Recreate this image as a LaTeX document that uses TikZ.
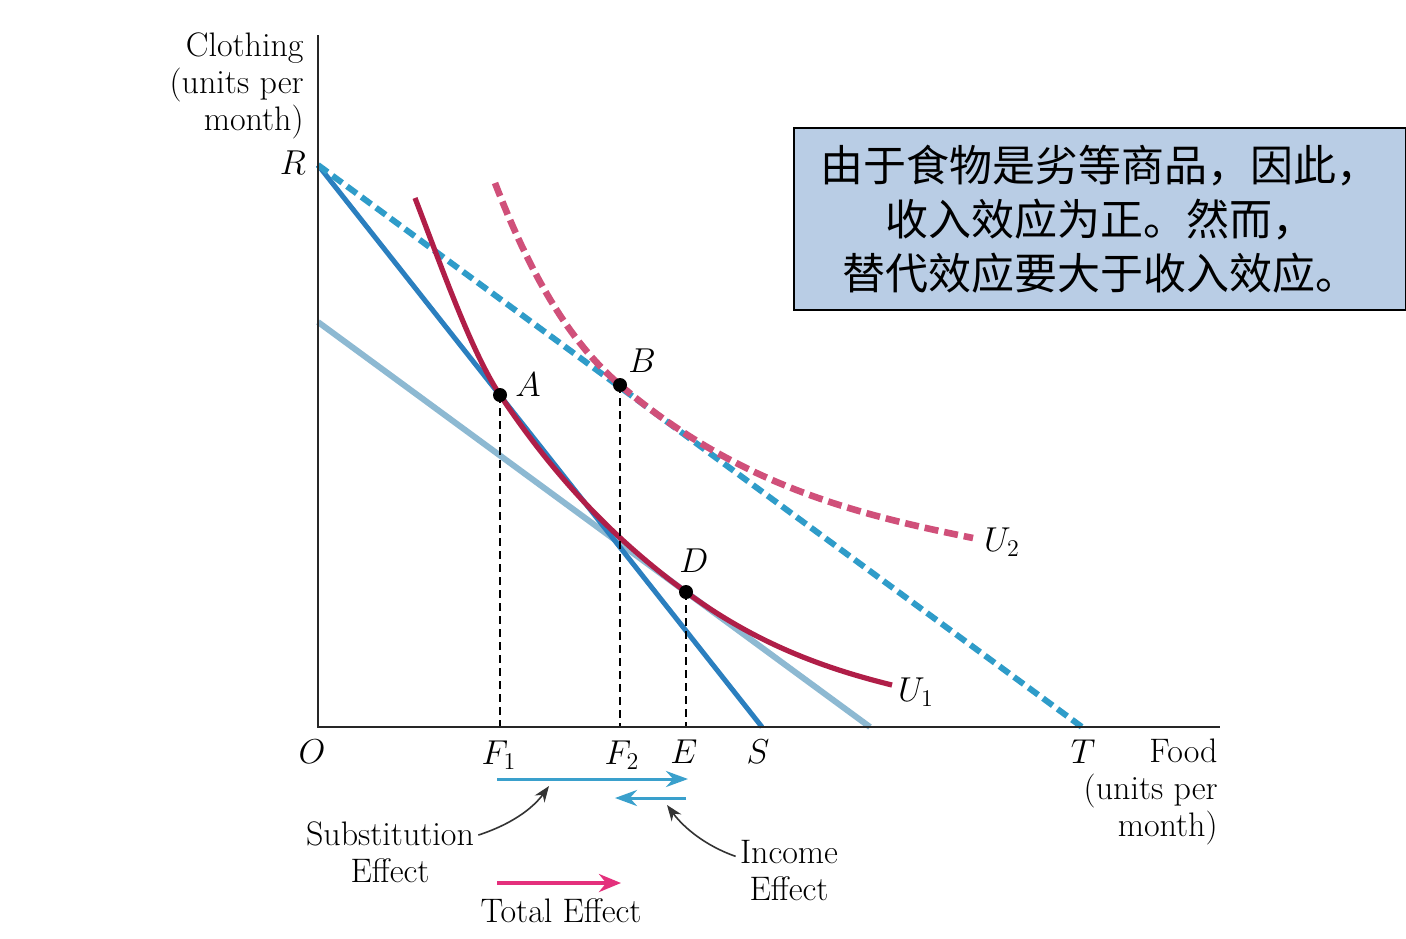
\documentclass[tikz,border=0pt]{standalone}
\usepackage{fontspec}
\newfontfamily\cjk{Noto Sans CJK SC}
\usetikzlibrary{arrows.meta}
\definecolor{budblue}{HTML}{2B7FBF}
\definecolor{dashblue}{HTML}{2F9CC9}
\definecolor{lightbl}{HTML}{8DB9D2}
\definecolor{ucrimson}{HTML}{B01E48}
\definecolor{upink}{HTML}{D0507A}
\definecolor{totmag}{HTML}{E4307C}
\definecolor{boxfill}{HTML}{B9CDE5}
\definecolor{effblue}{HTML}{3AA0CC}
\tikzset{
  axisline/.style={line width=1pt, black!85},
  budgetline/.style={line width=2.5pt, budblue},
  budgetdash/.style={line width=3pt, dashblue, dash pattern=on 6pt off 3pt},
  lightline/.style={line width=3pt, lightbl},
  ucurve/.style={line width=2.6pt, ucrimson},
  ucurvedash/.style={line width=3.3pt, upink, dash pattern=on 7pt off 3pt},
  vdash/.style={line width=0.7pt, black, dash pattern=on 4pt off 2.5pt},
  dotpt/.style={circle, fill=black, inner sep=0pt, minimum size=7pt},
  lab/.style={font=\fontsize{17}{18.5}\selectfont, inner sep=0pt},
  effarrow/.style={line width=1.5pt, effblue, -{Stealth[length=11pt,width=8pt]}},
  totarrow/.style={line width=2.2pt, totmag, -{Stealth[length=11pt,width=9pt]}},
  pointer/.style={line width=0.8pt, black!80, -{Stealth[length=8pt,width=6pt]}},
  notebox/.style={draw=black, line width=1pt, fill=boxfill, inner sep=0pt,
     minimum width=306pt, minimum height=91pt, align=center,
     font=\cjk\fontsize{21.5}{27}\selectfont}
}
\begin{document}
\begin{tikzpicture}[x=0.5pt, y=-0.5pt]
\useasboundingbox (0,0) rectangle (1406,938);
\fill[white] (0,0) rectangle (1406,938);
% key coordinates
\coordinate (O) at (318,727);
\coordinate (ytop) at (318,35);
\coordinate (xend) at (1220,727);
\coordinate (R) at (318,165);
\coordinate (S) at (762,727);
\coordinate (T) at (1082,727);
\coordinate (L0) at (318,322);
\coordinate (L1) at (870,727);
\coordinate (U1s) at (415,198);
\coordinate (U1e) at (892,685);
\coordinate (U2s) at (495,183);
\coordinate (U2e) at (973,538);
\coordinate (Ap) at (500,395);
\coordinate (Bp) at (620,385);
\coordinate (Dp) at (686,592);
% budget lines
\draw[lightline] (L0) -- (L1);
\draw[budgetline] (R) -- (S);
\draw[budgetdash] (R) -- (T);
% indifference curves
\draw[ucurve] (U1s) .. controls (443,271) and (472,353) .. (Ap)
   .. controls (562,488) and (624,546.5) .. (Dp)
   .. controls (755,643) and (823,668) .. (U1e);
\draw[ucurvedash] (U2s) .. controls (537,292) and (578,349) .. (Bp)
   .. controls (738,485) and (855,514) .. (U2e);
% points
\node[dotpt] (A) at (Ap) {};
\node[dotpt] (B) at (Bp) {};
\node[dotpt] (D) at (Dp) {};
\draw[vdash] (A.center) -- (A |- O);
\draw[vdash] (B.center) -- (B |- O);
\draw[vdash] (D.center) -- (D |- O);
% axes
\draw[axisline] (ytop) -- (O) -- (xend);
% axis labels
\node[lab, align=right, anchor=north east] (ylab) at (304,32) {Clothing\\(units per\\month)};
\node[lab] (Rl) at (293,163) {$R$};
\node[lab] (Ol) at (312,752) {$O$};
\node[lab] (F1l) at (499,755) {$F_1$};
\node[lab] (F2l) at (622,755) {$F_2$};
\node[lab] (El) at (684,752) {$E$};
\node[lab] (Sl) at (758,752) {$S$};
\node[lab] (Tl) at (1083,752) {$T$};
\node[lab, align=right, anchor=north east] (xlab) at (1218,738) {Food\\(units per\\month)};
\node[lab] (Al) at (528,385) {$A$};
\node[lab] (Bl) at (642,361) {$B$};
\node[lab] (Dl) at (694,561) {$D$};
\node[lab] (U2l) at (1002,542) {$U_2$};
\node[lab] (U1l) at (916,692) {$U_1$};
% effect arrows
\coordinate (se0) at (497,779);
\coordinate (se1) at (688,779);
\coordinate (ie0) at (686,798);
\coordinate (ie1) at (615,798);
\coordinate (te0) at (497,883);
\coordinate (te1) at (621,883);
\draw[effarrow] (se0) -- (se1);
\draw[effarrow] (ie0) -- (ie1);
\draw[totarrow] (te0) -- (te1);
\node[lab, align=center] (subst) at (390,852) {Substitution\\Effect};
\node[lab, align=center] (income) at (789,871) {Income\\Effect};
\node[lab] (total) at (561,911) {Total Effect};
\coordinate (sp1) at (549,786);
\coordinate (ip1) at (667,805);
\draw[pointer] (subst.north east) ++(4,14) .. controls (518,822) and (536,804) .. (sp1);
\draw[pointer] (income.north west) ++(-4,16) .. controls (706,846) and (684,828) .. (ip1);
% note box
\node[notebox] (note) at (1100,219) {由于食物是劣等商品，因此，\\收入效应为正。然而，\\替代效应要大于收入效应。};
\end{tikzpicture}
\end{document}
